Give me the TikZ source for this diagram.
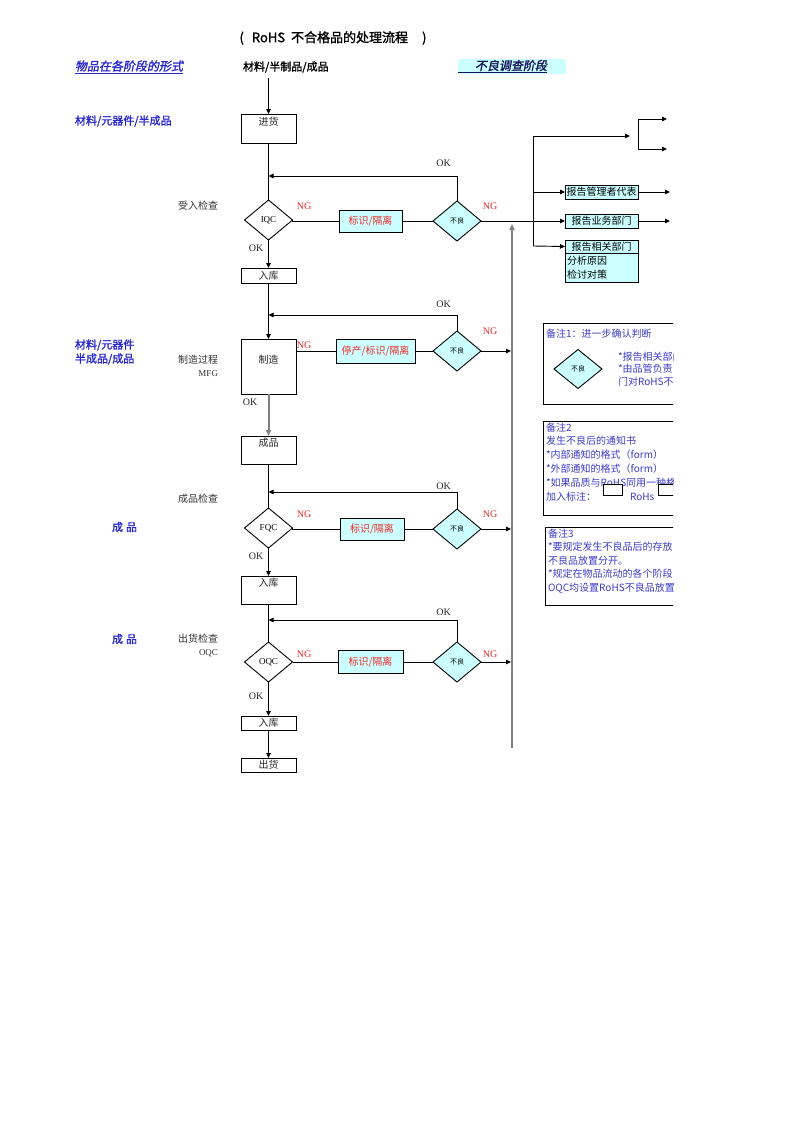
\documentclass[tikz,border=0pt]{standalone}
\usepackage{fontspec}
\setmainfont{Liberation Serif}
\newfontfamily\cjk{Noto Sans CJK SC}
\newfontfamily\cjkb[FakeBold=1.5]{Noto Sans CJK SC}
\newfontfamily\cjkbi[FakeBold=1.5,FakeSlant=0.2]{Noto Sans CJK SC}
\usetikzlibrary{arrows.meta,shapes.geometric,calc}
\definecolor{cyanbg}{RGB}{204,255,255}
\definecolor{leftblue}{RGB}{40,40,210}
\definecolor{noteblue}{RGB}{60,60,200}
\definecolor{navy}{RGB}{20,20,90}
\definecolor{ngred}{RGB}{240,40,40}
\begin{document}
\begin{tikzpicture}[x=1pt,y=-1pt,
  every node/.style={inner sep=0pt,outer sep=0pt},
  cn/.style={font=\cjk\fontsize{10}{12}\selectfont, text=black!85},
  cnr/.style={font=\cjk\fontsize{10}{12}\selectfont, text=ngred},
  lat/.style={font=\fontsize{10}{12}\selectfont, text=black!85},
  ng/.style={font=\fontsize{10}{12}\selectfont, text=ngred},
  small/.style={font=\cjk\fontsize{7}{8}\selectfont},
  ln/.style={draw=black, line width=0.9pt},
  arr/.style={ln, -{Triangle[length=5pt,width=4.5pt]}},
  garr/.style={draw=gray, line width=2pt, -{Triangle[length=6pt,width=5pt]}},
  box/.style={draw, line width=0.9pt, fill=white, minimum width=55pt},
  cbox/.style={draw, line width=0.9pt, fill=cyanbg},
  dia/.style={diamond, draw, line width=0.9pt, minimum width=48pt, minimum height=40pt, fill=white},
  cdia/.style={dia, fill=cyanbg},
  bl/.style={font=\cjkb\fontsize{11}{13}\selectfont, text=leftblue, anchor=west},
  side/.style={font=\cjk\fontsize{10}{12}\selectfont, text=black!80, anchor=east},
  note/.style={font=\cjk\fontsize{10}{12}\selectfont, text=noteblue, anchor=west},
]
\useasboundingbox (0,0) rectangle (793,1122);
\fill[white] (0,0) rectangle (793,1122);

% header
\node[font=\cjkb\fontsize{13}{15}\selectfont] (title) at (333,38) {(\hspace{8pt}RoHS\hspace{6pt}不合格品的处理流程\hspace{14pt})};
\node[font=\cjkbi\fontsize{12}{14}\selectfont, text=leftblue, anchor=west] (h1) at (75,67) {\underline{物品在各阶段的形式}};
\node[font=\cjkb\fontsize{11}{13}\selectfont, anchor=west] (h2) at (243,67) {材料/半制品/成品};
\node[fill=cyanbg, anchor=west, minimum height=15pt, text width=108pt, align=left, font=\cjkbi\fontsize{12}{14}\selectfont, text=navy] (h3) at (458,66.5) {\underline{\hspace{17pt}不良调查阶段}};

% left labels
\node[bl] (l1) at (75,121) {材料/元器件/半成品};
\node[bl] (l2) at (75,345) {材料/元器件};
\node[bl] (l3) at (75,359) {半成品/成品};
\node[bl] (l4) at (112,527) {成\hspace{3pt}品};
\node[bl] (l5) at (112,639) {成\hspace{3pt}品};
\node[side] (s1) at (218,206) {受入检查};
\node[side] (s2) at (218,360) {制造过程};
\node[side, font=\fontsize{9}{11}\selectfont] (s3) at (218,374) {MFG};
\node[side] (s4) at (218,499) {成品检查};
\node[side] (s5) at (218,639) {出货检查};
\node[side, font=\fontsize{9}{11}\selectfont] (s6) at (218,653) {OQC};

% main column
\coordinate (t0) at (268.5,78);
\node[box, minimum height=29pt] (jh) at (268.5,128.5) {};
\node[cn] (jht) at (268.5,122) {进货};
\draw[arr] (t0) -- (jh.north);

\coordinate (m1) at (268.5,176);
\node[dia, font=\fontsize{9}{11}\selectfont] (iqc) at (268.5,220) {IQC};
\draw[ln] (jh.south) -- (iqc.north);
\node[cbox, minimum width=63pt, minimum height=22pt, cnr] (bs1) at (370.5,221) {标识/隔离};
\node[cdia, small] (bl1) at (457,221) {不良};
\draw[ln] (iqc.east) -- (bs1.west -| iqc.east) -- (bs1.west);
\draw[ln] (bs1.east) -- (bl1.west);
\draw[arr] (bl1.north) |- (m1);
\node[lat] (ok1) at (443.5,163) {OK};
\node[ng] (ng1) at (304,206) {NG};
\node[ng] (ng2) at (490,206) {NG};

\node[box, minimum height=15pt, cn] (rk1) at (268.5,275.5) {入库};
\draw[arr] (iqc.south) -- (rk1.north);
\node[lat] (ok2) at (256,248) {OK};

\coordinate (m2) at (268.5,315);
\node[box, minimum height=55pt] (zz) at (268.5,366.5) {};
\node[cn] (zzt) at (268.5,360) {制造};
\draw[arr] (rk1.south) -- (zz.north);
\node[cbox, minimum width=79pt, minimum height=24pt, cnr] (bs2) at (375.5,351) {停产/标识/隔离};
\node[cdia, small] (bl2) at (457,351) {不良};
\draw[ln] (bs2.west -| zz.east) -- (bs2.west);
\draw[ln] (bs2.east) -- (bl2.west);
\draw[arr] (bl2.north) |- (m2);
\node[lat] (ok3) at (443.5,304) {OK};
\node[ng] (ng3) at (304,345) {NG};
\node[ng] (ng4) at (490,331) {NG};
\node[lat] (ok4) at (250,402) {OK};

\node[box, minimum height=28pt] (cp) at (268.5,450) {};
\node[cn] (cpt) at (268.5,443) {成品};
\draw[garr] (zz.south) -- (cp.north);

\coordinate (m3) at (268.5,492);
\node[dia, font=\fontsize{9}{11}\selectfont] (fqc) at (268.5,528) {FQC};
\draw[ln] (cp.south) -- (fqc.north);
\node[cbox, minimum width=64pt, minimum height=22pt, cnr] (bs3) at (372,529) {标识/隔离};
\node[cdia, small] (bl3) at (457,529) {不良};
\draw[ln] (fqc.east) -- (bs3.west -| fqc.east) -- (bs3.west);
\draw[ln] (bs3.east) -- (bl3.west);
\draw[arr] (bl3.north) |- (m3);
\node[lat] (ok5) at (443.5,486) {OK};
\node[ng] (ng5) at (304,514) {NG};
\node[ng] (ng6) at (490,514) {NG};
\node[lat] (ok6) at (256,556) {OK};

\node[box, minimum height=28pt] (rk2) at (268.5,590) {};
\node[cn] (rk2t) at (268.5,583) {入库};
\draw[arr] (fqc.south) -- (rk2.north);

\coordinate (m4) at (268.5,620);
\node[dia, font=\fontsize{9}{11}\selectfont] (oqc) at (268.5,662) {OQC};
\draw[ln] (rk2.south) -- (oqc.north);
\node[cbox, minimum width=65pt, minimum height=23pt, cnr] (bs4) at (370.5,662) {标识/隔离};
\node[cdia, small] (bl4) at (457,662) {不良};
\draw[ln] (oqc.east) -- (bs4.west);
\draw[ln] (bs4.east) -- (bl4.west);
\draw[arr] (bl4.north) |- (m4);
\node[lat] (ok7) at (443.5,612) {OK};
\node[ng] (ng7) at (304,654) {NG};
\node[ng] (ng8) at (490,654) {NG};
\node[lat] (ok8) at (256,696) {OK};

\node[box, minimum height=14pt, cn] (rk3) at (268.5,723) {入库};
\draw[arr] (oqc.south) -- (rk3.north);
\node[box, minimum height=14pt, cn] (ch) at (268.5,765) {出货};
\draw[arr] (rk3.south) -- (ch.north);

% gray collector
\coordinate (g1) at (512,748);
\coordinate (g2) at (512,224);
\draw[garr] (g1) -- (g2);
\coordinate (e2) at (511,351);
\coordinate (e3) at (511,529);
\coordinate (e4) at (511,662);
\draw[arr] (bl2.east) -- (e2);
\draw[arr] (bl3.east) -- (e3);
\draw[arr] (bl4.east) -- (e4);

% report branches
\coordinate (v1) at (533,136);
\coordinate (v2) at (533,246);
\coordinate (vm) at (533,192);
\coordinate (a1) at (630,136);
\coordinate (b1) at (638,119);
\coordinate (b2) at (638,149);
\coordinate (b1e) at (667,119);
\coordinate (b2e) at (667,149);
\draw[ln] (v1) -- (v2);
\draw[arr] (v1) -- (a1);
\draw[ln] (b1) -- (b2);
\draw[arr] (b1) -- (b1e);
\draw[arr] (b2) -- (b2e);
\node[cbox, minimum width=73pt, minimum height=14pt, cn, text=black] (rb1) at (601.5,192) {报告管理者代表};
\node[cbox, minimum width=73pt, minimum height=14pt, cn, text=black] (rb2) at (601.5,221) {报告业务部门};
\node[cbox, minimum width=73pt, minimum height=13pt, cn, text=black] (rb3) at (601.5,246.5) {报告相关部门};
\node[cbox, minimum width=73pt, minimum height=29pt, text width=69pt, align=left, font=\cjk\fontsize{10}{14}\selectfont, text=black, anchor=north] (rb4) at (rb3.south) {分析原因\\检讨对策};
\coordinate (r1e) at (670,192);
\coordinate (r2e) at (670,221);
\draw[arr] (vm) -- (rb1.west);
\draw[arr] (bl1.east) -- (rb2.west);
\draw[arr] (v2) -- (rb3.west);
\draw[arr] (rb1.east) -- (r1e);
\draw[arr] (rb2.east) -- (r2e);

% notes (clipped at right)
\begin{scope}
\clip (530,300) rectangle (673,620);
\draw[ln] (690,323) -- (543,323) -- (543,404) -- (690,404);
\node[note] (n1a) at (546,334) {备注1：进一步确认判断};
\node[cdia, small, minimum width=48pt, minimum height=39pt] (n1d) at (578,369) {不良};
\node[note] (n1b) at (618,357) {*报告相关部门};
\node[note] (n1c) at (618,369) {*由品管负责};
\node[note] (n1e) at (618,382) {门对RoHS不良};

\draw[ln] (690,421) -- (543,421) -- (543,515) -- (690,515);
\node[note] (n2a) at (546,428) {备注2};
\node[note] (n2b) at (546,441) {发生不良后的通知书};
\node[note] (n2c) at (546,455) {*内部通知的格式（form）};
\node[note] (n2d) at (546,469) {*外部通知的格式（form）};
\node[note] (n2e) at (546,483) {*如果品质与RoHS同用一种格式};
\node[note] (n2f) at (546,497) {加入标注：};
\node[note] (n2g) at (630,497) {RoHs};
\node[draw, line width=0.9pt, fill=white, minimum width=19pt, minimum height=11pt] (n2r1) at (612.5,490) {};
\node[draw, line width=0.9pt, fill=white, minimum width=30pt, minimum height=11pt, anchor=west] (n2r2) at (658,490) {};

\draw[ln] (690,527) -- (545,527) -- (545,605) -- (690,605);
\node[note] (n3a) at (548,534) {备注3};
\node[note] (n3b) at (548,547) {*要规定发生不良品后的存放};
\node[note] (n3c) at (548,561) {不良品放置分开。};
\node[note] (n3d) at (548,574) {*规定在物品流动的各个阶段};
\node[note] (n3e) at (548,588) {OQC均设置RoHS不良品放置区};
\end{scope}
\end{tikzpicture}
\end{document}
